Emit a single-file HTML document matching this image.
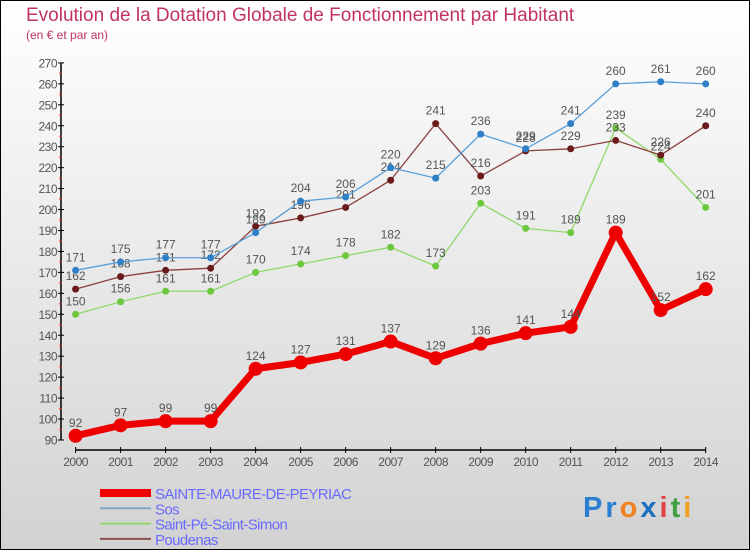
<!DOCTYPE html>
<html><head><meta charset="utf-8"><style>
body{margin:0}
svg{display:block;font-family:"Liberation Sans",sans-serif}
</style></head><body>
<svg width="750" height="550" viewBox="0 0 750 550">
<defs><linearGradient id="bg" x1="0" y1="0" x2="0" y2="1"><stop offset="0" stop-color="#ffffff"/><stop offset="1" stop-color="#d2d2d2"/></linearGradient></defs>
<rect x="0.5" y="0.5" width="749" height="549" fill="url(#bg)" stroke="#000"/>
<text x="26" y="21" font-size="19" fill="#c0345e">Evolution de la Dotation Globale de Fonctionnement par Habitant</text>
<text x="26" y="39" font-size="12" fill="#c0345e">(en € et par an)</text>
<g id="axes"></g>
<g id="series"></g>
<g id="legend"></g>
<text x="583" y="517" font-size="29" font-weight="bold" letter-spacing="3"><tspan fill="#2a7fd0">Pr</tspan><tspan fill="#f08020">o</tspan><tspan fill="#1a70c0">x</tspan><tspan fill="#e04040">i</tspan><tspan fill="#40a040">t</tspan><tspan fill="#f0a020">i</tspan></text>
</svg>
<script>
const years=[2000,2001,2002,2003,2004,2005,2006,2007,2008,2009,2010,2011,2012,2013,2014];
const yTicks=[90,100,110,120,130,140,150,160,170,180,190,200,210,220,230,240,250,260,270];
const seriesNames=["SAINTE-MAURE-DE-PEYRIAC","Sos","Saint-Pé-Saint-Simon","Poudenas"];
const redValues=[92,97,99,99,124,127,131,137,129,136,141,144,189,152,162];
const sosValues=[171,175,177,177,189,204,206,220,215,236,229,241,260,261,260];
const stPeValues=[150,156,161,161,170,174,178,182,173,203,191,189,239,224,201];
const poudenasValues=[162,168,171,172,192,196,201,214,241,216,228,229,233,226,240];
const NS="http://www.w3.org/2000/svg";
const xS=i=>75.6+i*(705.7-75.6)/(years.length-1);
const yS=v=>440-(v-90)*20.95/10;
function mk(t,a,p){const e=document.createElementNS(NS,t);for(const k in a)e.setAttribute(k,a[k]);p.appendChild(e);return e;}
const ax=document.getElementById('axes');
const yl=mk('line',{x1:61,y1:yS(270),x2:61,y2:440,stroke:'#000','stroke-width':1.5},ax);


const xl=mk('line',{x1:75.6,y1:450,x2:705.7,y2:450,stroke:'#000','stroke-width':1.5},ax);


yTicks.forEach(v=>{
  mk('line',{x1:58,y1:yS(v),x2:64,y2:yS(v),stroke:'#000'},ax);
  if(v<270) mk('line',{x1:59,y1:yS(v+5),x2:62,y2:yS(v+5),stroke:'#e03030'},ax);
  const t=mk('text',{x:57,y:yS(v)+4.5,'font-size':12,fill:'#555','text-anchor':'end','letter-spacing':'-0.5'},ax);
  t.textContent=v;
  
  
});
years.forEach((y,i)=>{
  mk('line',{x1:xS(i),y1:447,x2:xS(i),y2:453,stroke:'#000'},ax);
  const t=mk('text',{x:xS(i),y:466,'font-size':12,fill:'#555','text-anchor':'middle','letter-spacing':'-0.5'},ax);
  t.textContent=y;
  
  
});
const sg=document.getElementById('series');
function draw(vals,color,dot,w,r,name){
  const g=mk('g',{},sg);
  
  
  mk('polyline',{points:vals.map((v,i)=>xS(i)+','+yS(v)).join(' '),fill:'none',stroke:color,'stroke-width':w,'stroke-linejoin':'round'},g);
  vals.forEach((v,i)=>{
    const c=mk('circle',{cx:xS(i),cy:yS(v),r:r,fill:dot},g);
    
    
    const t=mk('text',{x:xS(i),y:yS(v)-9,'font-size':12,fill:'#555','text-anchor':'middle'},g);
    t.textContent=v;
    
    
  });
}
draw(stPeValues,'#8ed868','#6cc83c',1.3,3.5,'saint-pe-series');
draw(poudenasValues,'#8a4040','#6a1a1a',1.3,3.5,'poudenas-series');
draw(sosValues,'#5aa0d8','#3080c8',1.3,3.5,'sos-series');
draw(redValues,'#ee0000','#ee0000',7,7,'sainte-maure-series');
const lg=document.getElementById('legend');
const lc=[['#ee0000',8],['#7fa8c8',2],['#90d870',2],['#8a5050',2]];
seriesNames.forEach((n,i)=>{
  const y=493+i*15.3;
  const g=mk('g',{},lg);
  
  
  mk('line',{x1:100,y1:y,x2:151,y2:y,stroke:lc[i][0],'stroke-width':lc[i][1]},g);
  const t=mk('text',{x:155,y:y+6,'font-size':15,fill:'#6a6aff','letter-spacing':'-0.6'},g);
  t.textContent=n;
});
</script>
</body></html>
